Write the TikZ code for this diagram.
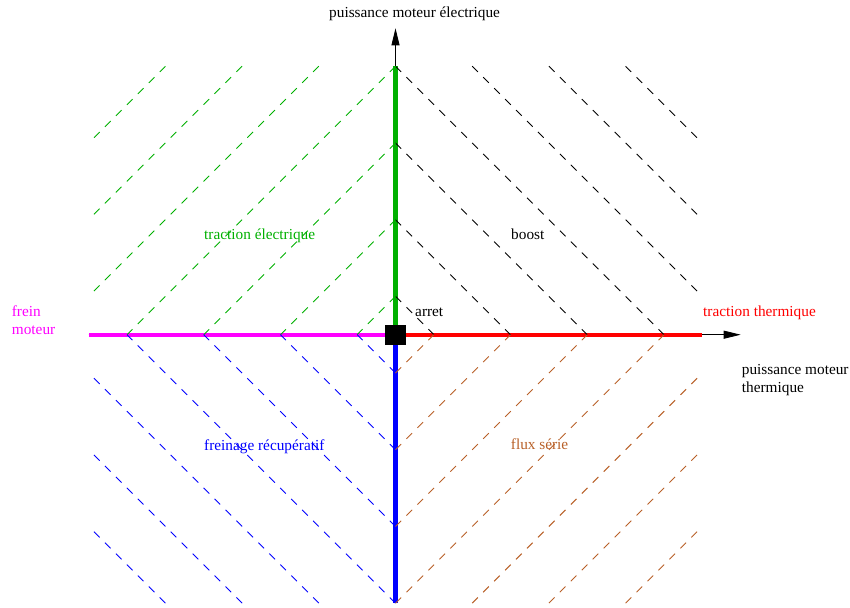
\documentclass[tikz,border=0pt]{standalone}
\usepackage{fontspec}
\setmainfont{Liberation Serif}
\usetikzlibrary{arrows.meta}
\definecolor{xgreen}{RGB}{0,176,0}
\definecolor{xmagenta}{RGB}{255,0,255}
\definecolor{xred}{RGB}{255,0,0}
\definecolor{xblue}{RGB}{0,0,255}
\definecolor{xbrown}{RGB}{184,96,40}
\tikzset{
  lbl/.style={anchor=base west, inner sep=0pt, font=\fontsize{15.3}{18}\selectfont, align=left},
  axisline/.style={draw=black, line width=0.9pt, -{Triangle[length=17pt,width=8pt]}},
  thickseg/.style={line width=4.2pt},
  hatch/.style={line width=0.9pt, dash pattern=on 8pt off 7.5pt},
}
\begin{document}
\begin{tikzpicture}[x=1pt,y=-1pt]
\useasboundingbox (0,0) rectangle (850,607);
% coordinates (pixel units)
\coordinate (O) at (395.5,334.7);
\coordinate (Xl) at (88.7,334.7);
\coordinate (Xr) at (702.3,334.7);
\coordinate (Xtip) at (740.7,334.7);
\coordinate (Yb) at (395.5,603.2);
\coordinate (Yt) at (395.5,66.2);
\coordinate (Ytip) at (395.5,28.3);
% axes
\draw[axisline] (Xl) -- (Xtip);
\draw[axisline] (Yb) -- (Ytip);
% thick coloured half-axes
\draw[thickseg, xred] (O) -- (Xr);
\draw[thickseg, xmagenta] (O) -- (Xl);
\draw[thickseg, xgreen] (O) -- (Yt);
\draw[thickseg, xblue] (O) -- (Yb);
% hatching
\begin{scope}[shift={(395.5,334.7)}, x=76.7pt, y=76.7pt]
\foreach \a/\b/\c/\d in {0/0.5/0.5/0, 0/1.5/1.5/0, 0/2.5/2.5/0, 0/3.5/3.5/0, 1/3.5/4/0.5, 2/3.5/4/1.5, 3/3.5/4/2.5} {
  \draw[hatch, black] (\a,\b) -- (\c,\d);
  \draw[hatch, xgreen] (-\a,\b) -- (-\c,\d);
  \draw[hatch, xblue] (-\a,-\b) -- (-\c,-\d);
  \draw[hatch, xbrown] (\a,-\b) -- (\c,-\d);
}
\end{scope}
% origin square
\node[fill=black, minimum width=21pt, minimum height=20pt, inner sep=0pt] (sq) at (O) {};
% labels
\node[lbl] (ty) at (329,18) {puissance moteur électrique};
\node[lbl, text=xgreen] (te) at (204,239) {traction électrique};
\node[lbl] (tb) at (511,239) {boost};
\node[lbl] (ta) at (415,316) {arret};
\node[lbl, text=xred] (tt) at (703,316) {traction thermique};
\node[lbl, text=xmagenta] (tf) at (11.7,334) {frein\\moteur};
\node[lbl] (tx) at (741.7,392) {puissance moteur\\thermique};
\node[lbl, text=xblue] (tr) at (204,450) {freinage récupératif};
\node[lbl, text=xbrown] (ts) at (510.7,449.3) {flux série};
\end{tikzpicture}
\end{document}
